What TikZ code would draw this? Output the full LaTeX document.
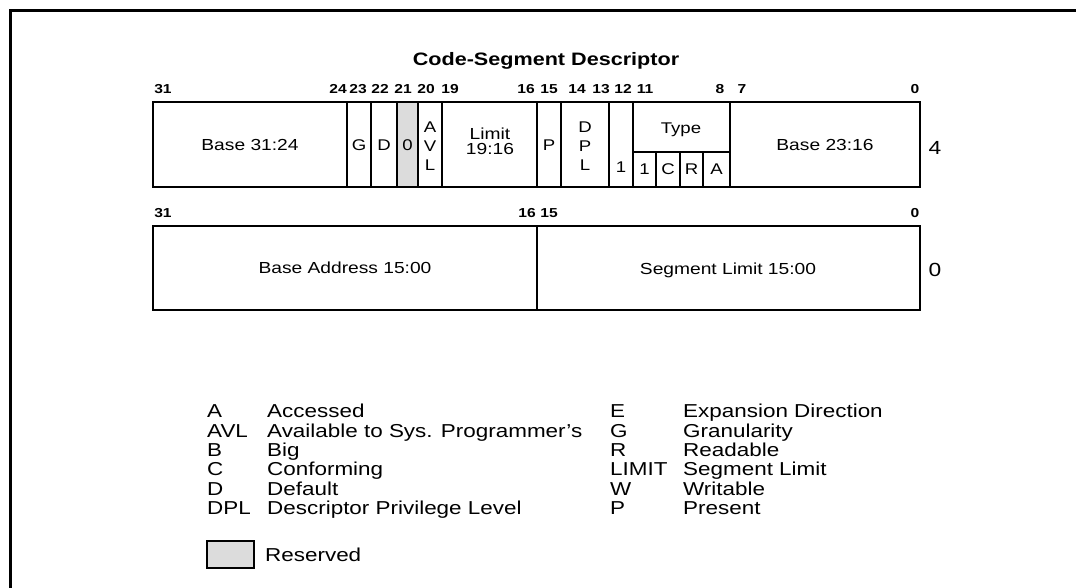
\documentclass[tikz,border=0pt]{standalone}
\usepackage{fontspec}
\setmainfont{Liberation Sans}[FakeStretch=1.2]
\definecolor{resgray}{HTML}{DCDCDC}
\begin{document}
\begin{tikzpicture}[x=1pt,y=-1pt,
  cell/.style={line width=2.4pt, line cap=rect},
  title/.style={font=\fontsize{18}{20}\selectfont\bfseries},
  bitnum/.style={font=\fontsize{13}{13}\selectfont\bfseries, inner sep=0pt, anchor=base},
  lbl/.style={font=\fontsize{16}{16}\selectfont, inner sep=0pt, align=center},
  sml/.style={font=\fontsize{15.5}{15.5}\selectfont, inner sep=0pt},
  rowlbl/.style={font=\fontsize{19}{19}\selectfont, inner sep=0pt},
  leg/.style={font=\fontsize{18.7}{19}\selectfont, inner sep=0pt, anchor=base west}]
\useasboundingbox (0,0) rectangle (1076,588);
% frame
\draw[line width=3pt] (10.5,588) -- (10.5,11) -- (1076,11);
% title
\node[title] (title) at (546,61) {Code-Segment Descriptor};
% ---- row 1 (dword 4)
\fill[resgray] (397,102) rectangle (418,187);
\draw[cell] (153,102) rectangle (920,187);
\foreach \x in {347,371,397,418,442,537,561,609,633,730}
  \draw[cell] (\x,102) -- (\x,187);
\draw[cell] (633,152) -- (730,152);
\foreach \x in {656,680,703}
  \draw[cell] (\x,152) -- (\x,187);
% bit numbers row 1
\foreach \t/\x [count=\i] in {31/163,24/338,23/358,22/380,21/403,20/426,19/450,16/526,15/549,14/577,13/601,12/623,11/645,8/720,7/742,0/915}
  \node[bitnum] (b1-\i) at (\x,94) {\t};
% cell texts row 1
\node[lbl] (base3124) at (250,145) {Base 31:24};
\node[sml] (g) at (359,145) {G};
\node[sml] (d) at (384,145) {D};
\node[sml] (zero) at (407.5,145) {0};
\node[sml] (avlA) at (430,127) {A};
\node[sml] (avlV) at (430,146) {V};
\node[sml] (avlL) at (430,165) {L};
\node[lbl, font=\fontsize{16}{15}\selectfont] (limit) at (490,141) {Limit\\19:16};
\node[sml] (p) at (549,145) {P};
\node[sml] (dplD) at (585,127) {D};
\node[sml] (dplP) at (585,146) {P};
\node[sml] (dplL) at (585,165) {L};
\node[sml] (one) at (621,167) {1};
\node[lbl, font=\fontsize{15.5}{15.5}\selectfont] (type) at (681,130) {Type};
\node[sml] (t1) at (644.5,169) {1};
\node[sml] (tC) at (668,169) {C};
\node[sml] (tR) at (691.5,169) {R};
\node[sml] (tA) at (716.5,169) {A};
\node[lbl] (base2316) at (825,145) {Base 23:16};
\node[rowlbl] (r4) at (935,148) {4};
% ---- row 2 (dword 0)
\draw[cell] (153,226) rectangle (920,310);
\draw[cell] (537,226) -- (537,310);
\foreach \t/\x [count=\i] in {31/163,16/527,15/549,0/915}
  \node[bitnum] (b0-\i) at (\x,218) {\t};
\node[lbl] (baseaddr) at (345,268) {Base Address 15:00};
\node[lbl] (seglim) at (728,270) {Segment Limit 15:00};
\node[rowlbl] (r0) at (935,270) {0};
% ---- legend
\foreach \k/\v/\y [count=\i] in {A/Accessed/411,AVL/Available to Sys. Programmer's/431,B/Big/450,C/Conforming/469,D/Default/489,DPL/Descriptor Privilege Level/508}{
  \node[leg] (lk\i) at (207,\y+6.7) {\k};
  \node[leg] (lv\i) at (267,\y+6.7) {\v};
}
\foreach \k/\v/\y [count=\i] in {E/Expansion Direction/411,G/Granularity/431,R/Readable/450,LIMIT/Segment Limit/469,W/Writable/489,P/Present/508}{
  \node[leg] (rk\i) at (610,\y+6.7) {\k};
  \node[leg] (rv\i) at (683,\y+6.7) {\v};
}
\draw[line width=2.4pt, fill=resgray] (207,541) rectangle (254,568);
\node[leg] (reserved) at (265,561.7) {Reserved};
\end{tikzpicture}
\end{document}
